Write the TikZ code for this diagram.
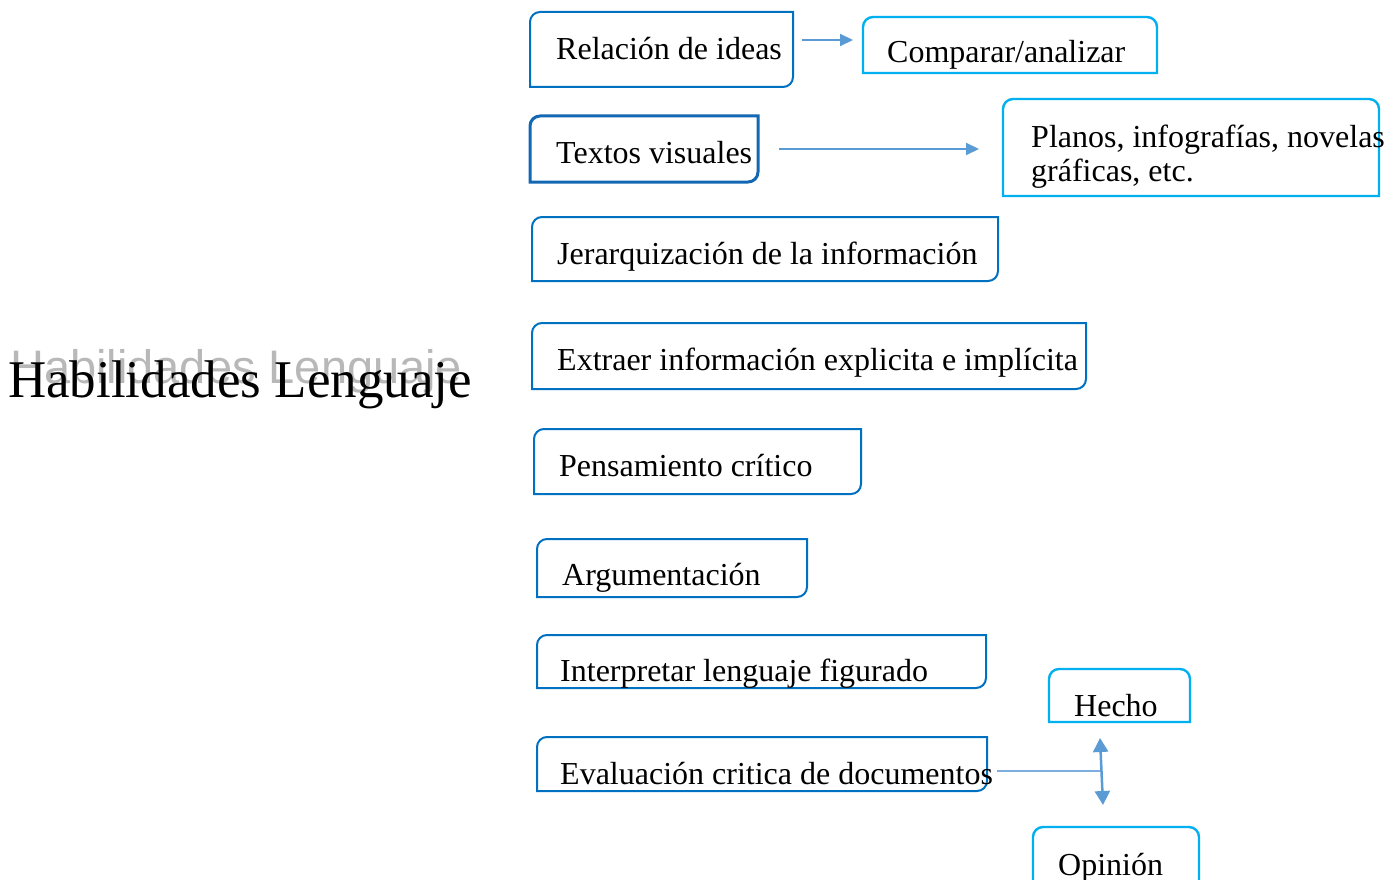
\documentclass[tikz,border=0pt]{standalone}
\usepackage{fontspec}
\setmainfont{Liberation Serif}
\newfontfamily\ghostfont{Liberation Sans}
\usetikzlibrary{arrows.meta,calc}
\definecolor{lblue}{HTML}{0070C0}
\definecolor{dblue}{HTML}{1368B4}
\definecolor{cblue}{HTML}{00B0F0}
\definecolor{ablue}{HTML}{5B9BD5}
\definecolor{ghost}{HTML}{B8B8B8}
\newcommand\rr{10pt}
% box with rounded top-left and bottom-right corners
\newcommand\diagbox[2][]{%
  \draw[#1] (#2.south west) -- ([yshift=-\rr]#2.north west)
    arc[start angle=180,end angle=90,radius=\rr] -- (#2.north east)
    -- ([yshift=\rr]#2.south east) arc[start angle=0,end angle=-90,radius=\rr] -- cycle;}
% box with rounded top corners
\newcommand\topbox[2][]{%
  \draw[#1] (#2.south west) -- ([yshift=-\rr]#2.north west)
    arc[start angle=180,end angle=90,radius=\rr] -- ([xshift=-\rr]#2.north east)
    arc[start angle=90,end angle=0,radius=\rr] -- (#2.south east) -- cycle;}
\tikzset{
  boxn/.style={rectangle,draw=none,inner sep=0pt,outer sep=0pt,anchor=north west},
  txt/.style={anchor=base west,inner sep=0pt,font=\fontsize{32}{38}\selectfont},
  lline/.style={draw=lblue,line width=2pt},
  tline/.style={draw=dblue,line width=3pt},
  cline/.style={draw=cblue,line width=2.4pt},
  arr/.style={draw=ablue,line width=2pt,-{Triangle[length=13pt,width=12pt]}},
  arr2/.style={draw=ablue,line width=2.5pt,{Triangle[length=14pt,width=15pt]}-{Triangle[length=14pt,width=15pt]}},
  thinln/.style={draw=ablue!80,line width=1.3pt}
}
\begin{document}
\begin{tikzpicture}[x=1pt,y=-1pt]
\useasboundingbox (0,0) rectangle (1395,880);
\fill[white] (0,0) rectangle (1395,880);
% title
\node[anchor=base west,inner sep=0pt,text=ghost,font=\ghostfont\fontsize{47}{50}\selectfont] (ghosttitle) at (10,383) {Habilidades Lenguaje};
\node[anchor=base west,inner sep=0pt,font=\fontsize{53}{60}\selectfont] (title) at (8,397) {Habilidades Lenguaje};
% box nodes
\node[boxn,minimum width=263pt,minimum height=75pt] (b1) at (530,12) {};
\node[boxn,minimum width=294pt,minimum height=56pt] (b2) at (863,17) {};
\node[boxn,minimum width=228pt,minimum height=66pt] (b3) at (530,116) {};
\node[boxn,minimum width=376pt,minimum height=97pt] (b4) at (1003,99) {};
\node[boxn,minimum width=466pt,minimum height=64pt] (b5) at (532,217) {};
\node[boxn,minimum width=554pt,minimum height=66pt] (b6) at (532,323) {};
\node[boxn,minimum width=327pt,minimum height=65pt] (b7) at (534,429) {};
\node[boxn,minimum width=270pt,minimum height=58pt] (b8) at (537,539) {};
\node[boxn,minimum width=449pt,minimum height=53pt] (b9) at (537,635) {};
\node[boxn,minimum width=450pt,minimum height=54pt] (b10) at (537,737) {};
\node[boxn,minimum width=141pt,minimum height=53pt] (b11) at (1049,669) {};
\node[boxn,minimum width=166pt,minimum height=60pt] (b12) at (1033,827) {};
% outlines
\diagbox[lline]{b1}
\topbox[cline]{b2}
\diagbox[tline]{b3}
\topbox[cline]{b4}
\diagbox[lline]{b5}
\diagbox[lline]{b6}
\diagbox[lline]{b7}
\diagbox[lline]{b8}
\diagbox[lline]{b9}
\diagbox[lline]{b10}
\topbox[cline]{b11}
\topbox[cline]{b12}
% texts
\node[txt] (t1) at (556,60) {Relación de ideas};
\node[txt] (t2) at (887,63) {Comparar/analizar};
\node[txt] (t3) at (556,164) {Textos visuales};
\node[txt] (t4a) at (1031,148) {Planos, infografías, novelas};
\node[txt] (t4b) at (1031,182) {gráficas, etc.};
\node[txt] (t5) at (557,264) {Jerarquización de la información};
\node[txt] (t6) at (557,370) {Extraer información explicita e implícita};
\node[txt] (t7) at (559,476) {Pensamiento crítico};
\node[txt] (t8) at (562,585) {Argumentación};
\begin{scope}
  \clip (b9.north west) rectangle (b9.south east);
  \node[txt] (t9) at (560,681) {Interpretar lenguaje figurado};
\end{scope}
\node[txt] (t10) at (560,784) {Evaluación critica de documentos};
\node[txt] (t11) at (1074,716) {Hecho};
\node[txt] (t12) at (1058,875) {Opinión};
% connectors
\draw[arr] ($(b1.north east)+(9pt,-28pt)$) -- ($(b2.north west)+(-10pt,-23pt)$);
\draw[arr] ($(b3.north east)+(21pt,-33pt)$) -- ($(b4.north west)+(-24pt,-50pt)$);
\coordinate (j) at (1101,771);
\draw[thinln] ($(b10.east)+(10pt,-7pt)$) -- (j);
\draw[arr2] ($(b11.south)+(-19.5pt,-16pt)$) -- ($(b12.north)+(-13pt,22pt)$);
\end{tikzpicture}
\end{document}
